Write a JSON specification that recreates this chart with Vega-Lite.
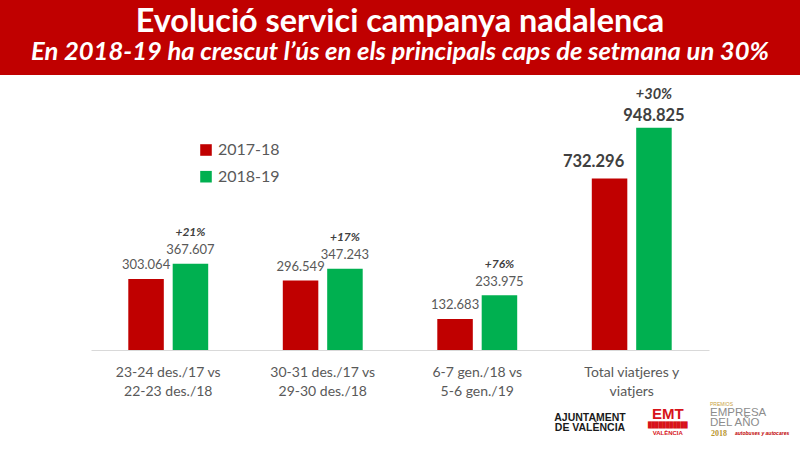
{
  "$schema": "https://vega.github.io/schema/vega-lite/v6.json",
  "padding": 0,
  "background": "white",
  "spacing": 0,
  "center": true,
  "bounds": "flush",
  "resolve": {"scale": {"x": "independent", "xOffset": "independent", "y": "independent"}, "axis": {"x": "independent", "y": "independent"}},
  "config": {"font": "Lato", "view": {"stroke": null}, "concat": {"spacing": 0}},
  "datasets": {
    "main": [
      {"periode": "23-24 des./17 vs|22-23 des./18", "campanya": "2017-18", "viatgers": 303064, "etiqueta": "303.064", "creixement": null},
      {"periode": "23-24 des./17 vs|22-23 des./18", "campanya": "2018-19", "viatgers": 367607, "etiqueta": "367.607", "creixement": "+21%"},
      {"periode": "30-31 des./17 vs|29-30 des./18", "campanya": "2017-18", "viatgers": 296549, "etiqueta": "296.549", "creixement": null},
      {"periode": "30-31 des./17 vs|29-30 des./18", "campanya": "2018-19", "viatgers": 347243, "etiqueta": "347.243", "creixement": "+17%"},
      {"periode": "6-7 gen./18 vs|5-6 gen./19", "campanya": "2017-18", "viatgers": 132683, "etiqueta": "132.683", "creixement": null},
      {"periode": "6-7 gen./18 vs|5-6 gen./19", "campanya": "2018-19", "viatgers": 233975, "etiqueta": "233.975", "creixement": "+76%"},
      {"periode": "Total viatjeres y|viatjers", "campanya": "2017-18", "viatgers": 732296, "etiqueta": "732.296", "creixement": null},
      {"periode": "Total viatjeres y|viatjers", "campanya": "2018-19", "viatgers": 948825, "etiqueta": "948.825", "creixement": "+30%"}
    ],
    "logos": [
      {"part": "aj", "logo": "A", "linia": 7, "text": "AJUNTAMENT"},
      {"part": "aj2", "logo": "A", "linia": 8, "text": "DE VALÈNCIA"},
      {"part": "emt", "logo": "E", "linia": 7, "text": "EMT"},
      {"part": "emtband", "logo": "E", "linia": 8, "text": "███████████"},
      {"part": "emtsub", "logo": "E", "linia": 9, "text": "VALÈNCIA"},
      {"part": "premio", "logo": "P", "linia": 6, "text": "PREMIOS"},
      {"part": "empresa", "logo": "P", "linia": 7, "text": "EMPRESA"},
      {"part": "empresa2", "logo": "P", "linia": 8, "text": "DEL AÑO"},
      {"part": "any", "logo": "P", "linia": 9, "text": "2018"},
      {"part": "web", "logo": "P", "linia": 9, "text": "autobuses y autocares"}
    ]
  },
  "vconcat": [
    {
      "width": 800,
      "height": 75,
      "view": {"fill": "#C00000", "stroke": null},
      "data": {"values": [
        {"linia": "titol", "text": "Evolució servici campanya nadalenca"},
        {"linia": "subtitol", "text": "En 2018-19 ha crescut l’ús en els principals caps de setmana un 30%"}
      ]},
      "layer": [
        {
          "transform": [{"filter": "datum.linia == 'titol'"}],
          "mark": {"type": "text", "color": "white", "fontSize": 32.4, "fontWeight": "bold", "baseline": "alphabetic", "align": "center", "dy": -5.8},
          "encoding": {"text": {"field": "text", "type": "nominal"}}
        },
        {
          "transform": [{"filter": "datum.linia == 'subtitol'"}],
          "mark": {"type": "text", "color": "white", "fontSize": 25.6, "fontWeight": "bold", "fontStyle": "italic", "baseline": "alphabetic", "align": "center", "dy": 22.5},
          "encoding": {"text": {"field": "text", "type": "nominal"}}
        }
      ]
    },
    {
      "width": 618,
      "height": 275,
      "data": {"name": "main"},
      "encoding": {
        "x": {
          "field": "periode", "type": "nominal", "sort": null,
          "scale": {"paddingInner": 0, "paddingOuter": 0},
          "axis": {
            "title": null, "labelAngle": 0, "labelExpr": "split(datum.label, '|')",
            "labelFont": "Lato", "labelFontSize": 14, "labelColor": "#595959",
            "labelLineHeight": 19, "labelPadding": 15, "ticks": false,
            "domainColor": "#D9D9D9", "domainWidth": 1
          }
        },
        "xOffset": {"field": "campanya", "type": "nominal", "scale": {"paddingInner": 0.2, "paddingOuter": 0.84}},
        "y": {"field": "viatgers", "type": "quantitative", "scale": {"domain": [0, 1173700], "nice": false}, "axis": null}
      },
      "layer": [
        {
          "mark": {"type": "bar"},
          "encoding": {
            "color": {
              "field": "campanya", "type": "nominal",
              "scale": {"domain": ["2017-18", "2018-19"], "range": ["#C00000", "#00B050"]},
              "legend": {
                "title": null, "orient": "none", "legendX": 198, "legendY": 142,
                "direction": "vertical", "symbolType": "square", "symbolSize": 134,
                "symbolStrokeWidth": 0, "labelFont": "Lato", "labelFontSize": 16,
                "labelColor": "#595959", "labelOffset": 4, "rowPadding": 10.7
              }
            }
          }
        },
        {
          "transform": [{"filter": "datum.periode != 'Total viatjeres y|viatjers'"}],
          "mark": {"type": "text", "fontSize": 13, "color": "#595959", "baseline": "alphabetic", "dy": -9.6},
          "encoding": {"text": {"field": "etiqueta", "type": "nominal"}}
        },
        {
          "transform": [{"filter": "datum.periode == 'Total viatjeres y|viatjers' && datum.campanya == '2017-18'"}],
          "mark": {"type": "text", "fontSize": 16.5, "fontWeight": "bold", "color": "#404040", "baseline": "alphabetic", "dx": -16, "dy": -11},
          "encoding": {"text": {"field": "etiqueta", "type": "nominal"}}
        },
        {
          "transform": [{"filter": "datum.periode == 'Total viatjeres y|viatjers' && datum.campanya == '2018-19'"}],
          "mark": {"type": "text", "fontSize": 16.5, "fontWeight": "bold", "color": "#404040", "baseline": "alphabetic", "dy": -6.7},
          "encoding": {"text": {"field": "etiqueta", "type": "nominal"}}
        },
        {
          "transform": [{"filter": "datum.creixement != null && datum.periode != 'Total viatjeres y|viatjers'"}],
          "mark": {"type": "text", "fontSize": 12, "fontWeight": "bold", "fontStyle": "italic", "color": "#404040", "baseline": "alphabetic", "dy": -27.6},
          "encoding": {"text": {"field": "creixement", "type": "nominal"}}
        },
        {
          "transform": [{"filter": "datum.creixement != null && datum.periode == 'Total viatjeres y|viatjers'"}],
          "mark": {"type": "text", "fontSize": 14.5, "fontWeight": "bold", "fontStyle": "italic", "color": "#404040", "baseline": "alphabetic", "dy": -28.4},
          "encoding": {"text": {"field": "creixement", "type": "nominal"}}
        }
      ]
    },
    {
      "width": 618,
      "height": 100,
      "data": {"name": "logos"},
      "encoding": {
        "x": {
          "datum": "Total viatjeres y|viatjers", "type": "nominal",
          "scale": {"domain": ["23-24 des./17 vs|22-23 des./18", "30-31 des./17 vs|29-30 des./18", "6-7 gen./18 vs|5-6 gen./19", "Total viatjeres y|viatjers"], "paddingInner": 0, "paddingOuter": 0},
          "axis": null
        },
        "xOffset": {"field": "logo", "type": "nominal", "scale": {"domain": ["A", "E", "P"], "paddingInner": 0, "paddingOuter": 0}},
        "y": {"field": "linia", "type": "ordinal", "scale": {"type": "point", "domain": [1, 2, 3, 4, 5, 6, 7, 8, 9, 10], "padding": 0.5}, "axis": null}
      },
      "layer": [
        {
          "transform": [{"filter": "datum.part == 'aj'"}],
          "mark": {"type": "text", "font": "Liberation Sans", "fontWeight": "bold", "fontSize": 10.5, "color": "#1A1A1A", "align": "center", "dx": 35.5, "dy": 2.5},
          "encoding": {"text": {"field": "text", "type": "nominal"}}
        },
        {
          "transform": [{"filter": "datum.part == 'aj2'"}],
          "mark": {"type": "text", "font": "Liberation Sans", "fontWeight": "bold", "fontSize": 10.5, "color": "#1A1A1A", "align": "center", "dx": 35.5, "dy": 3},
          "encoding": {"text": {"field": "text", "type": "nominal"}}
        },
        {
          "transform": [{"filter": "datum.part == 'emt'"}],
          "mark": {"type": "text", "font": "Liberation Sans", "fontWeight": "bold", "fontSize": 15, "color": "#D7141A", "align": "center", "dx": 36, "dy": -1},
          "encoding": {"text": {"field": "text", "type": "nominal"}}
        },
        {
          "transform": [{"filter": "datum.part == 'emtband'"}],
          "mark": {"type": "text", "font": "DejaVu Sans Mono", "fontSize": 6, "color": "#D7141A", "align": "center", "dx": 36, "dy": 0},
          "encoding": {"text": {"field": "text", "type": "nominal"}}
        },
        {
          "transform": [{"filter": "datum.part == 'emtsub'"}],
          "mark": {"type": "text", "font": "Liberation Sans", "fontWeight": "bold", "fontSize": 6, "color": "#D7141A", "align": "center", "dx": 36, "dy": -2},
          "encoding": {"text": {"field": "text", "type": "nominal"}}
        },
        {
          "transform": [{"filter": "datum.part == 'premio'"}],
          "mark": {"type": "text", "font": "Liberation Sans", "fontSize": 5, "color": "#C9A23C", "align": "left", "dx": 1, "dy": -1.5},
          "encoding": {"text": {"field": "text", "type": "nominal"}}
        },
        {
          "transform": [{"filter": "datum.part == 'empresa'"}],
          "mark": {"type": "text", "font": "Liberation Sans", "fontSize": 11.5, "color": "#8C8C8C", "align": "left", "dx": 1, "dy": -2.5},
          "encoding": {"text": {"field": "text", "type": "nominal"}}
        },
        {
          "transform": [{"filter": "datum.part == 'empresa2'"}],
          "mark": {"type": "text", "font": "Liberation Sans", "fontSize": 11.5, "color": "#8C8C8C", "align": "left", "dx": 1, "dy": -2},
          "encoding": {"text": {"field": "text", "type": "nominal"}}
        },
        {
          "transform": [{"filter": "datum.part == 'any'"}],
          "mark": {"type": "text", "font": "Liberation Serif", "fontWeight": "bold", "fontSize": 8, "color": "#B8962E", "align": "left", "dx": 2, "dy": -1},
          "encoding": {"text": {"field": "text", "type": "nominal"}}
        },
        {
          "transform": [{"filter": "datum.part == 'web'"}],
          "mark": {"type": "text", "font": "Liberation Sans", "fontWeight": "bold", "fontStyle": "italic", "fontSize": 5, "color": "#C00000", "align": "left", "dx": 26, "dy": -2},
          "encoding": {"text": {"field": "text", "type": "nominal"}}
        }
      ]
    }
  ]
}
